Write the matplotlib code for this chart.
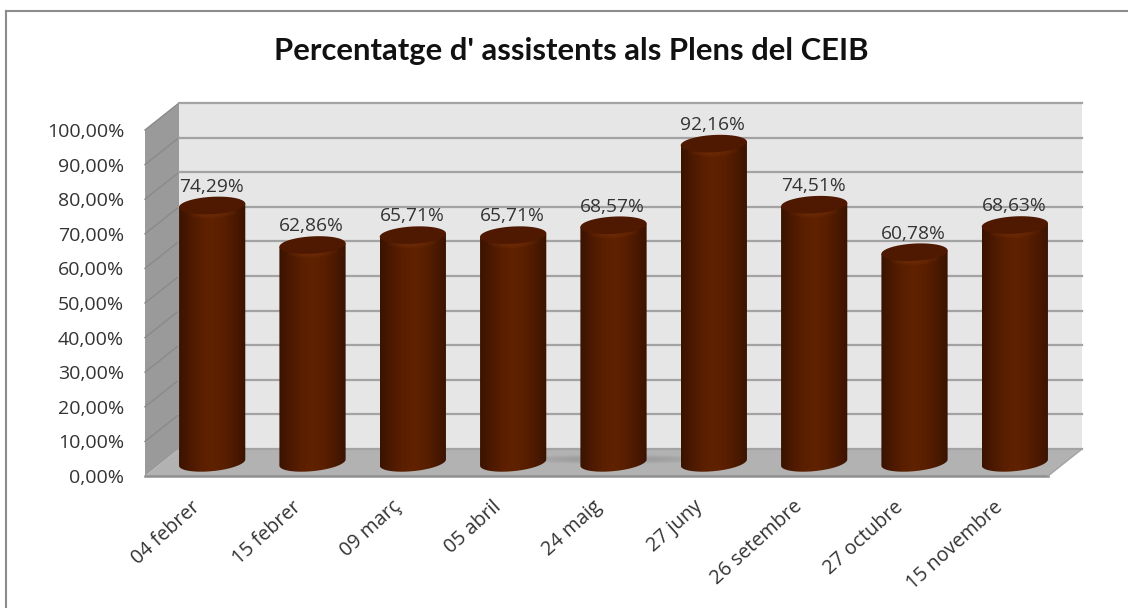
import numpy as np
import matplotlib
matplotlib.use('Agg')
import matplotlib.pyplot as plt
from matplotlib.patches import Polygon
from matplotlib.lines import Line2D
from matplotlib.colors import LinearSegmentedColormap
from matplotlib.transforms import ScaledTranslation

dates = ['04 febrer', '15 febrer', '09 març', '05 abril', '24 maig',
         '27 juny', '26 setembre', '27 octubre', '15 novembre']
values = [74.29, 62.86, 65.71, 65.71, 68.57, 92.16, 74.51, 60.78, 68.63]
y_ticks = [0, 10, 20, 30, 40, 50, 60, 70, 80, 90, 100]
title = "Percentatge d' assistents als Plens del CEIB"

W, H = 1128, 608
fig = plt.figure(figsize=(W/100, H/100), dpi=100, facecolor='white')

# front plane of the 3d box
ax = fig.add_axes([145/W, (H-476)/H, 903/W, 346/H])
ax.patch.set_visible(False)
for s in ax.spines.values():
    s.set_visible(False)

# depth of the box in data units
dx = 34/100.3
dy = 27/3.46
x0, x1 = -0.5, 8.5
bar_w = 0.66
ell_h = 2.5
tilt = 0.9
tilt_top = 0.5

# side wall, back wall, floor
ax.add_patch(Polygon([[x0, 0], [x0+dx, dy], [x0+dx, 100+dy], [x0, 100]], fc='#9a9a9a', ec='none', zorder=1, clip_on=False))
ax.add_patch(Polygon([[x0+dx, dy], [x1+dx, dy], [x1+dx, 100+dy], [x0+dx, 100+dy]], fc='#e6e6e6', ec='none', zorder=1, clip_on=False))
ax.add_patch(Polygon([[x0, 0], [x1, 0], [x1+dx, dy], [x0+dx, dy]], fc='#b2b2b2', ec='none', zorder=1, clip_on=False))

for t in y_ticks:
    if t > 0:
        ax.plot([x0, x0+dx], [t, t+dy], color='#8a8a8a', lw=1, zorder=2, clip_on=False)
    ax.plot([x0+dx, x1+dx], [t+dy, t+dy], color='#a3a3a3', lw=1.6, zorder=2, clip_on=False)
ax.plot([x0, x1], [0, 0], color='#8f8f8f', lw=1.8, zorder=2, clip_on=False)
ax.plot([x1, x1+dx], [0, dy], color='#a3a3a3', lw=1, zorder=2, clip_on=False)

# soft shadow on the floor behind the fifth bar
for k in range(8):
    sx = 4 + dx/2
    t = np.linspace(0, 2*np.pi, 80)
    ax.fill(sx + (0.95-0.07*k)*np.cos(t), dy*0.62 + (1.4-0.13*k)*np.sin(t),
            color='#808080', alpha=0.05, ec='none', zorder=2)

body = LinearSegmentedColormap.from_list('body', ['#3a1300', '#4c1900', '#5a1f00', '#602200',
                                                  '#5a1f00', '#4c1900', '#3a1300'])
grad = np.linspace(0, 1, 256).reshape(1, -1)
t_bot = np.linspace(np.pi, 2*np.pi, 60)
t_full = np.linspace(0, 2*np.pi, 120)
px = bar_w/2

for i, v in enumerate(values):
    cx = i + dx/2
    base = dy/2
    top = v + dy/2
    # body outline: top edge straight across the ellipse, rounded bottom
    bx = cx + px*np.cos(t_bot)
    by = base + ell_h*np.sin(t_bot) + tilt*np.cos(t_bot)
    outline = np.column_stack([np.r_[cx-px, bx, cx+px], np.r_[top-tilt_top, by, top+tilt_top]])
    clip = Polygon(outline, fc='none', ec='none', transform=ax.transData, zorder=3, clip_on=False)
    ax.add_patch(clip)
    im = ax.imshow(grad, cmap=body, extent=[cx-px, cx+px, base-ell_h-2, top+ell_h],
                   aspect='auto', zorder=3)
    im.set_clip_path(clip)
    # soft highlight under the top ellipse
    for k in range(6):
        tx = cx + px*(0.75-0.09*k)*np.cos(t_full)
        ty = top - 2.0 + (1.8-0.22*k)*np.sin(t_full) + 0.3*np.cos(t_full)
        ax.fill(tx, ty, color='#7a3410', alpha=0.12, ec='none', zorder=3.5)
    # top ellipse
    ex = cx + px*np.cos(t_full)
    ey = top + ell_h*np.sin(t_full) + tilt_top*np.cos(t_full)
    ax.fill(ex, ey, color='#4e1900', ec='none', zorder=4)
    ax.text(cx - 0.01, top + 5.4, ('%.2f%%' % v).replace('.', ','), ha='center', va='center',
            fontsize=13.8, family='Open Sans', color='#333333', zorder=5)

ax.set_xlim(x0, x1)
ax.set_ylim(0, 100)
ax.set_yticks(y_ticks)
ax.set_yticklabels([('%.2f%%' % t).replace('.', ',') for t in y_ticks], family='Open Sans',
                   fontsize=14, color='#333333')
ax.set_xticks(range(len(dates)))
ax.set_xticklabels(dates, family='Open Sans', fontsize=14.2, color='#333333',
                   rotation=42, ha='right', rotation_mode='anchor')
ax.tick_params(axis='y', length=0, pad=15)
ax.tick_params(axis='x', length=0, pad=15)
for lab in ax.get_xticklabels():
    lab.set_transform(lab.get_transform() + ScaledTranslation(-4/100, 0, fig.dpi_scale_trans))

fig.text(571/W, 1-51/H, title, ha='center', va='center', fontsize=22.3, fontweight='bold',
         family='Lato', color='#111111')

# chart frame, left and top only
fig.add_artist(Line2D([6/W, 6/W], [0, 1-11/H], color='#8c8c8c', lw=1.5))
fig.add_artist(Line2D([6/W, 1], [1-11/H, 1-11/H], color='#8c8c8c', lw=1.5))

fig.savefig('out.png', dpi=100)
